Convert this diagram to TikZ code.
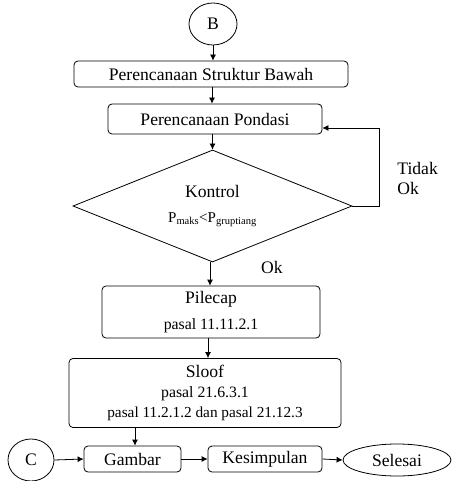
\documentclass[tikz,border=0pt]{standalone}
\usepackage{fontspec}
\setmainfont{Liberation Serif}
\usetikzlibrary{shapes.geometric,arrows.meta}
\begin{document}
\begin{tikzpicture}[x=1pt,y=-1pt,
  every node/.style={font=\fontsize{17.6}{20}\selectfont, inner sep=0pt, line width=0.8pt},
  box/.style={draw, rounded corners=4pt, align=center},
  oval/.style={draw, ellipse},
  arr/.style={line width=0.8pt, -{Latex[length=6pt,width=6pt]}}
]
\useasboundingbox (0,0) rectangle (454,481);
\node[oval, minimum width=48, minimum height=42] (B) at (213,24) {B};
\node[box, minimum width=274, minimum height=26] (s1) at (211,74) {Perencanaan Struktur Bawah};
\node[box, minimum width=214, minimum height=30] (s2) at (215,119) {Perencanaan Pondasi};
\node[draw, diamond, aspect=2.5, minimum width=279, minimum height=112, align=center] (d) at (212.5,206)
  {Kontrol\\[5pt]\fontsize{15}{17}\selectfont P\textsubscript{maks}<P\textsubscript{gruptiang}};
\node[box, minimum width=218, minimum height=52] (p) at (211,312)
  {Pilecap\\[6pt]\fontsize{15.8}{18}\selectfont pasal 11.11.2.1};
\node[box, minimum width=272, minimum height=69] (sl) at (205,393)
  {Sloof\\\fontsize{15.8}{20}\selectfont pasal 21.6.3.1\\\fontsize{15.3}{20}\selectfont pasal 11.2.1.2 dan pasal 21.12.3};
\node[box, minimum width=97, minimum height=26] (g) at (132.5,459) {Gambar};
\node[box, minimum width=114, minimum height=26] (k) at (265,459) {Kesimpulan};
\node[oval, minimum width=108, minimum height=32] (sel) at (397,460) {Selesai};
\node[oval, minimum width=46, minimum height=42] (C) at (31,460) {C};
\coordinate (fb) at (379,128);
\coordinate (x212) at (212,0);
\coordinate (x210) at (210,0);
\coordinate (x208) at (208,0);
\coordinate (x135) at (135,0);
\node[align=left, anchor=west] (tl) at (397,178) {Tidak\\Ok};
\node (ok) at (272,267) {Ok};

\draw[arr] (B.south) -- (B.south |- s1.north);
\draw[arr] (s1.south -| x212) -- (s2.north -| x212);
\draw[arr] (s2.south -| d.north) -- (d.north);
\draw[arr] (d.east) -| (fb) -- (s2.east |- fb);
\draw[arr] (d.south -| x210) -- (p.north -| x210);
\draw[arr] (p.south -| x208) -- (sl.north -| x208);
\draw[arr] (sl.south -| x135) -- (g.north -| x135);
\draw[arr] (C.east) -- (g.west);
\draw[arr] (g.east) -- (k.west);
\draw[arr] (k.east) -- (sel.west);
\end{tikzpicture}
\end{document}
